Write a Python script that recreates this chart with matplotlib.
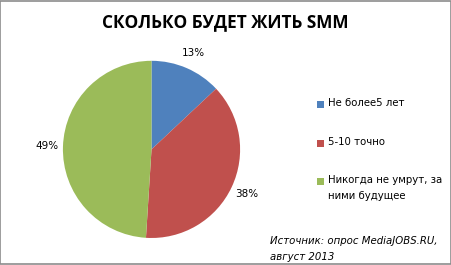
import matplotlib
matplotlib.use("Agg")
import matplotlib.pyplot as plt
from matplotlib.patches import Rectangle

title = "СКОЛЬКО БУДЕТ ЖИТЬ SMM"
categories = ["Не более5 лет", "5-10 точно", "Никогда не умрут, за\nними будущее"]
values = [13, 38, 49]
colors = ["#4F81BD", "#C0504D", "#9BBB59"]
source = "Источник: опрос MediaJOBS.RU,\nавгуст 2013"

W, H = 452, 265


def fx(x):
    return x / W


def fy(y):
    return 1 - y / H


fig = plt.figure(figsize=(4.52, 2.65), dpi=100)
fig.patch.set_facecolor("white")
fig.add_artist(Rectangle((0.001, 0.002), 0.996, 0.994, transform=fig.transFigure,
                         fill=False, edgecolor="#8c8c8c", linewidth=1.2))

ax = fig.add_axes([0.1392, 0.1019, 0.392, 0.6687])
wedges, texts, autotexts = ax.pie(values, colors=colors, startangle=90, counterclock=False,
                                  autopct=lambda p: f"{p:.0f}%", pctdistance=1.185,
                                  radius=1.0, wedgeprops=dict(linewidth=0),
                                  textprops=dict(fontsize=7.5, color="#000000", family="DejaVu Sans"))
ax.set_xlim(-1, 1)
ax.set_ylim(-1, 1)
ax.set_aspect("equal")

fig.text(fx(225), fy(22), title, ha="center", va="center", fontsize=12.4, fontweight="bold",
         family="Open Sans")

# legend
rows_y = [104, 143, 181]
for c, lab, y in zip(colors, categories, rows_y):
    fig.add_artist(Rectangle((fx(317), fy(y + 3.5)), 7 / W, 7 / H, transform=fig.transFigure,
                             facecolor=c, edgecolor="none"))
    fig.text(fx(328), fy(y - 6), lab, ha="left", va="top", fontsize=7.3,
             family="DejaVu Sans", linespacing=1.75)

fig.text(fx(270), fy(236), source, ha="left", va="top", fontsize=7.3, style="italic",
         family="DejaVu Sans", linespacing=1.75)

fig.savefig("out.png", dpi=100, facecolor="white")
